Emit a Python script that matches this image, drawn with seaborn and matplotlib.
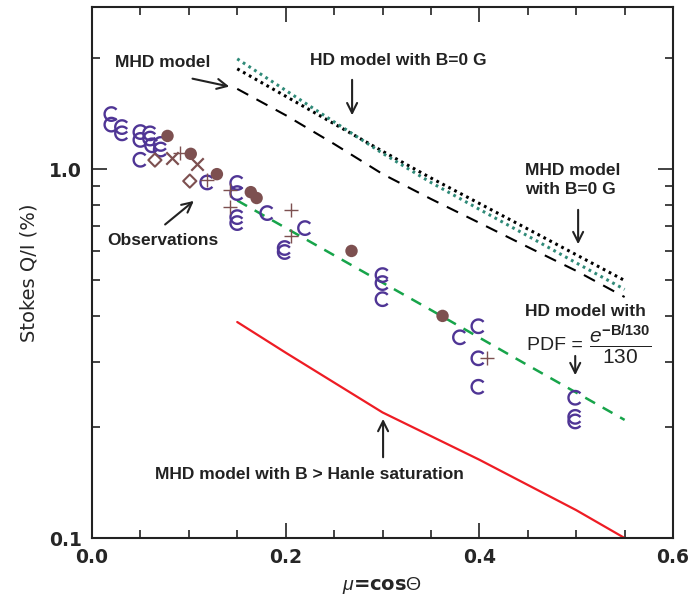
import matplotlib as mpl
mpl.use('Agg')
import matplotlib.pyplot as plt
import matplotlib.path as mpath
from matplotlib.ticker import FixedLocator, MultipleLocator, NullFormatter, FixedFormatter
import numpy as np
import pandas as pd
import seaborn as sns

# observations (mu, Q/I in %)
circ_mu = [0.020, 0.020, 0.031, 0.031, 0.050, 0.050, 0.060, 0.060, 0.062, 0.071, 0.071, 0.050,
           0.119, 0.150, 0.150, 0.150, 0.150, 0.181, 0.220, 0.199, 0.199,
           0.300, 0.300, 0.300, 0.380, 0.399, 0.399, 0.399, 0.499, 0.499, 0.499]
circ_q = [1.41, 1.32, 1.30, 1.25, 1.26, 1.20, 1.25, 1.21, 1.16, 1.17, 1.13, 1.06,
          0.92, 0.917, 0.861, 0.741, 0.714, 0.760, 0.692, 0.611, 0.596,
          0.516, 0.491, 0.444, 0.350, 0.375, 0.307, 0.257, 0.240, 0.213, 0.207]
dot_mu = [0.078, 0.102, 0.129, 0.164, 0.170, 0.268, 0.362]
dot_q = [1.23, 1.10, 0.969, 0.866, 0.835, 0.600, 0.400]
cross_mu = [0.083, 0.108]
cross_q = [1.071, 1.032]
plus_mu = [0.091, 0.119, 0.143, 0.143, 0.205, 0.205, 0.408]
plus_q = [1.105, 0.934, 0.877, 0.789, 0.774, 0.658, 0.307]
diam_mu = [0.065, 0.101]
diam_q = [1.058, 0.928]

# model curves
model_mu = [0.15, 0.20, 0.25, 0.30, 0.35, 0.40, 0.45, 0.50, 0.55]
mhd = [1.65, 1.40, 1.17, 0.97, 0.83, 0.715, 0.615, 0.53, 0.45]
mhd_b0 = [1.87, 1.576, 1.327, 1.118, 0.946, 0.807, 0.688, 0.586, 0.499]
hd_b0 = [1.99, 1.635, 1.343, 1.104, 0.920, 0.778, 0.659, 0.557, 0.472]
hd_pdf_mu = [0.15, 0.25, 0.35, 0.45, 0.55]
hd_pdf = [0.822, 0.584, 0.415, 0.294, 0.209]
sat_mu = [0.15, 0.20, 0.30, 0.40, 0.50, 0.55]
sat = [0.385, 0.318, 0.219, 0.163, 0.119, 0.100]

purple = '#4f3595'
brown = '#7d5050'

sns.set_style('ticks')
plt.rcParams['font.family'] = ['DejaVu Sans']
plt.rcParams['mathtext.fontset'] = 'custom'
plt.rcParams['mathtext.rm'] = 'Liberation Sans'
plt.rcParams['mathtext.it'] = 'Liberation Sans:italic'
plt.rcParams['mathtext.bf'] = 'Liberation Sans:bold'

fig = plt.figure(figsize=(6.91, 6.06), dpi=100)
ax = fig.add_axes([0.1331, 0.1122, 0.8409, 0.8762])
ax.set_yscale('log')

lines = pd.DataFrame({'mu': model_mu, 'mhd': mhd, 'mhd_b0': mhd_b0, 'hd_b0': hd_b0})
sns.lineplot(data=lines, x='mu', y='mhd', color='black', lw=1.5, linestyle=(0, (6, 4.5)), ax=ax)
sns.lineplot(data=lines, x='mu', y='mhd_b0', color='black', lw=2.2, linestyle=(0, (0.9, 1.3)), ax=ax)
sns.lineplot(data=lines, x='mu', y='hd_b0', color='#2f8a78', lw=2.2, linestyle=(0, (0.9, 1.3)), ax=ax)
sns.lineplot(x=hd_pdf_mu, y=hd_pdf, color='#17a44a', lw=1.8, linestyle=(0, (4.5, 3.5)), ax=ax)
sns.lineplot(x=sat_mu, y=sat, color='#ee1c24', lw=1.6, ax=ax)

c_marker = mpath.Path.arc(40, 320)
sns.scatterplot(x=circ_mu, y=circ_q, marker=c_marker, s=95, facecolor='none',
                edgecolor=purple, linewidth=1.7, ax=ax, zorder=3)
sns.scatterplot(x=dot_mu, y=dot_q, marker='o', s=80, color=brown, edgecolor='none', ax=ax, zorder=4)
sns.scatterplot(x=cross_mu, y=cross_q, marker='x', s=80, color=brown, linewidth=1.6, ax=ax, zorder=4)
sns.scatterplot(x=plus_mu, y=plus_q, marker='+', s=100, color=brown, linewidth=1.0, ax=ax, zorder=4)
sns.scatterplot(x=diam_mu, y=diam_q, marker='D', s=45, facecolor='none', edgecolor=brown,
                linewidth=1.5, ax=ax, zorder=4)

ax.set_xlim(0, 0.6)
ax.set_ylim(0.1, 2.75)
ax.xaxis.set_major_locator(MultipleLocator(0.2))
ax.xaxis.set_minor_locator(MultipleLocator(0.05))
ax.xaxis.set_major_formatter(mpl.ticker.FormatStrFormatter('%.1f'))
ax.yaxis.set_major_locator(FixedLocator([0.1, 1.0]))
ax.yaxis.set_major_formatter(FixedFormatter(['0.1', '1.0']))
ax.yaxis.set_minor_locator(FixedLocator([0.2, 0.3, 0.4, 0.5, 0.6, 0.7, 0.8, 0.9, 2.0]))
ax.yaxis.set_minor_formatter(NullFormatter())
ax.tick_params(which='both', direction='in', top=True, right=True, width=1.2, color='#222222')
ax.tick_params(which='major', length=11, labelsize=13.5, pad=7)
ax.tick_params(which='minor', length=6)
for lab in ax.get_xticklabels() + ax.get_yticklabels():
    lab.set_fontweight('bold')
for sp in ax.spines.values():
    sp.set_linewidth(1.5)
    sp.set_color('#222222')

ax.set_xlabel(r'$\mu$=cos$\Theta$', fontsize=14, fontweight='bold', labelpad=6)
ax.set_ylabel('Stokes Q/I (%)', fontsize=14, fontweight='medium', labelpad=8)

afont = dict(family='Liberation Sans', fontweight='bold', fontsize=12.5, color='#222222')
arr = dict(arrowstyle='->', lw=1.5, color='#222222', mutation_scale=18)

ax.text(0.0733, 1.95, 'MHD model', ha='center', va='center', **afont)
ax.annotate('', xy=(0.1446, 1.668), xytext=(0.101, 1.765), arrowprops=arr)
ax.text(0.316, 1.974, 'HD model with B=0 G', ha='center', va='center', **afont)
ax.annotate('', xy=(0.2686, 1.375), xytext=(0.2686, 1.776), arrowprops=arr)
ax.text(0.447, 0.934, 'MHD model\nwith B=0 G', ha='left', va='center', linespacing=1.4, **afont)
ax.annotate('', xy=(0.502, 0.615), xytext=(0.502, 0.789), arrowprops=arr)
ax.text(0.0733, 0.642, 'Observations', ha='center', va='center', **afont)
ax.annotate('', xy=(0.1074, 0.829), xytext=(0.0733, 0.700), arrowprops=arr)
ax.text(0.447, 0.410, 'HD model with', ha='left', va='center', **afont)
ax.text(0.449, 0.333, 'PDF =', ha='left', va='center', family='Liberation Sans', fontsize=14, color='#222222')
ax.text(0.546, 0.336, r'$\dfrac{e^{\mathbf{-B/130}}}{130}$', ha='center', va='center', fontsize=15, color='#222222')
ax.annotate('', xy=(0.499, 0.2715), xytext=(0.499, 0.317), arrowprops=arr)
ax.text(0.225, 0.149, 'MHD model with B > Hanle saturation', ha='center', va='center', **afont)
ax.annotate('', xy=(0.3006, 0.214), xytext=(0.3006, 0.1627), arrowprops=arr)

fig.savefig('out.png', dpi=100)
